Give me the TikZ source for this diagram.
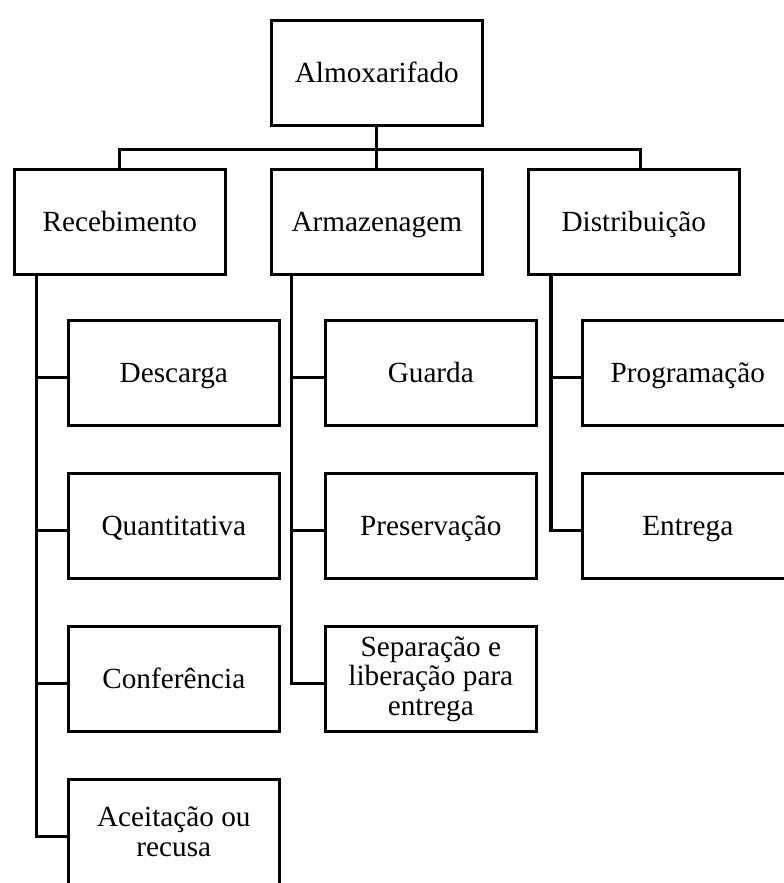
\documentclass[tikz,border=0pt]{standalone}
\usepackage{fontspec}
\setmainfont{Liberation Serif}
\usetikzlibrary{positioning}

\begin{document}
\begin{tikzpicture}[
        node distance=1.2cm and 1.15cm,
        box/.style={rectangle, draw=black, line width=2.3pt, outer sep=0pt, inner sep=2pt, minimum width=5.275cm, minimum height=2.625cm, align=center, text height=14.5pt, text depth=0.8pt, font=\fontsize{20.8}{21}\selectfont},
        lines/.style={text height=, text depth=},
        link/.style={draw=black, line width=2.3pt}
    ]

        \useasboundingbox (0,0) rectangle (19.6,-22.075);

        \node[box] (almox) at (9.42,-1.825) {Almoxarifado};
        \node[box, below=1.1cm of {almox}] (arm) {Armazenagem};
        \node[box, left=of {arm}] (receb) {Recebimento};
        \node[box, right=of {arm}] (distr) {Distribuição};

        \node[box, below=1.15cm of {receb}, xshift=1.35cm] (descarga) {Descarga};
        \node[box, below=of {descarga}] (quant) {Quantitativa};
        \node[box, below=of {quant}] (confer) {Conferência};
        \node[box, lines, below=of {confer}] (aceite) {Aceitação ou\\ recusa};

        \node[box, below=1.15cm of {arm}, xshift=1.35cm] (guarda) {Guarda};
        \node[box, below=of {guarda}] (preserv) {Preservação};
        \node[box, lines, below=of {preserv}] (separ) {Separação e\\ liberação para\\ entrega};

        \node[box, below=1.15cm of {distr}, xshift=1.35cm] (progr) {Programação};
        \node[box, below=of {progr}] (entrega) {Entrega};

        \coordinate[below=0.6cm of {almox.south}] (hub);
        \draw[link] (almox.south) -- (hub);
        \draw[link] (receb.north) |- (hub) -| ([xshift=0.17cm]distr.north);
        \draw[link] (hub) -- (arm.north);

        \draw[link] ([xshift=0.55cm]receb.south west) |- ([yshift=-1.2mm]descarga.west);
        \draw[link] ([xshift=0.55cm]receb.south west) |- ([yshift=-1.2mm]quant.west);
        \draw[link] ([xshift=0.55cm]receb.south west) |- ([yshift=-1.2mm]confer.west);
        \draw[link] ([xshift=0.55cm]receb.south west) |- ([yshift=-1.2mm]aceite.west);

        \draw[link] ([xshift=0.5cm]arm.south west) |- ([yshift=-1.2mm]guarda.west);
        \draw[link] ([xshift=0.5cm]arm.south west) |- ([yshift=-1.2mm]preserv.west);
        \draw[link] ([xshift=0.5cm]arm.south west) |- ([yshift=-1.2mm]separ.west);

        \draw[link] ([xshift=0.57cm]distr.south west) |- ([yshift=-1.2mm]progr.west);
        \draw[link] ([xshift=0.57cm]distr.south west) |- ([yshift=-1.2mm]entrega.west);
    \end{tikzpicture}
\end{document}
